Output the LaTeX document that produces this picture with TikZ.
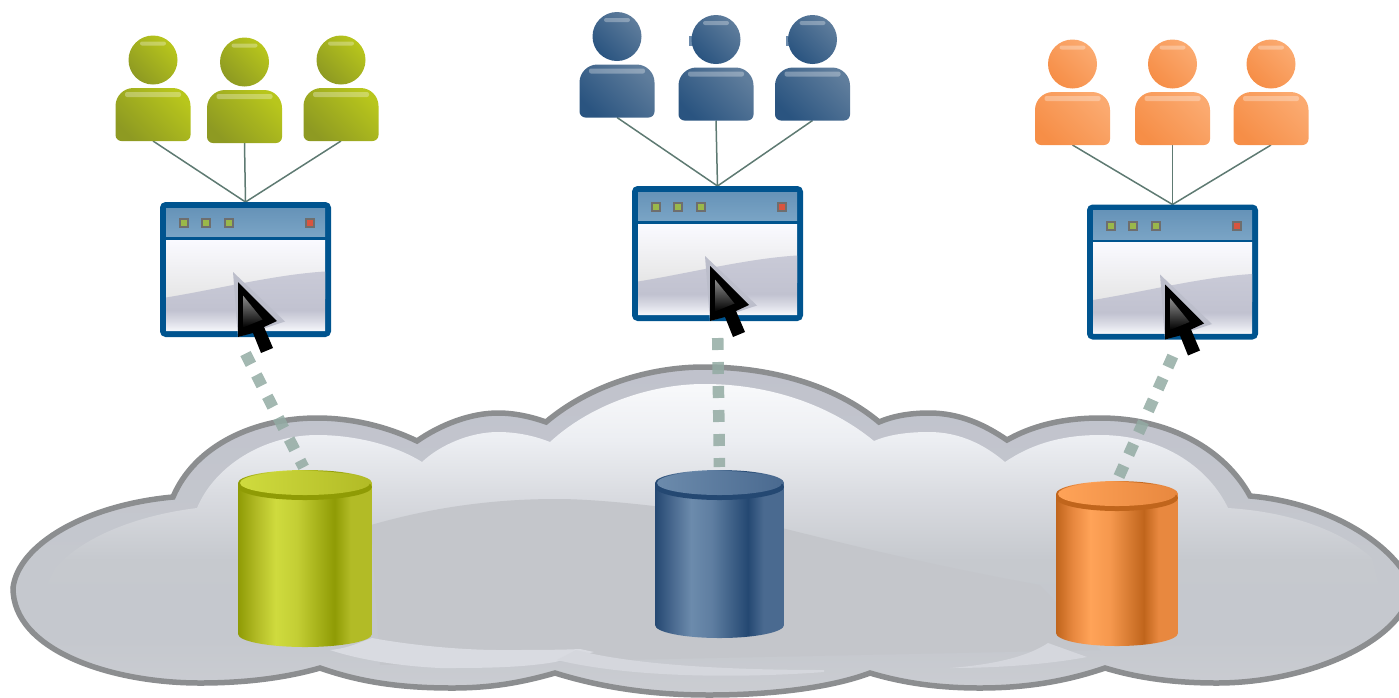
\documentclass[tikz,border=0pt]{standalone}
\usetikzlibrary{calc}
\pgfdeclarelayer{cloudlayer}
\pgfdeclarelayer{linklayer}
\pgfsetlayers{cloudlayer,linklayer,main}

\definecolor{yd}{HTML}{8F9B05}
\definecolor{ym}{HTML}{B2BB26}
\definecolor{yl}{HTML}{CFDB3E}
\definecolor{bd}{HTML}{244872}
\definecolor{bm}{HTML}{4A6A90}
\definecolor{bl}{HTML}{6C8BAC}
\definecolor{od}{HTML}{C0651C}
\definecolor{om}{HTML}{E8883F}
\definecolor{ol}{HTML}{FFA358}
\definecolor{yuserlow}{HTML}{8E9A22}
\definecolor{yuserhigh}{HTML}{B8C61C}
\definecolor{buserlow}{HTML}{2A5480}
\definecolor{buserhigh}{HTML}{5F7D9C}
\definecolor{ouserlow}{HTML}{F68E47}
\definecolor{ouserhigh}{HTML}{FBAA70}
\definecolor{winblue}{HTML}{00548F}
\definecolor{wintitletop}{HTML}{6693B8}
\definecolor{wintitlelow}{HTML}{7AA4C5}
\definecolor{winledgreen}{HTML}{9AB84A}
\definecolor{winledred}{HTML}{D9543F}
\definecolor{winledrim}{HTML}{6E6E6E}
\definecolor{winshadow}{HTML}{BCBECB}
\definecolor{linkgreen}{HTML}{5E7A72}
\definecolor{dotgreen}{HTML}{93ABA3}
\definecolor{cloudline}{HTML}{8C8E90}
\definecolor{cloudrim}{HTML}{C0C2CC}
\definecolor{cloudbase}{HTML}{C5C8CE}
\definecolor{cloudlow}{HTML}{CBCDD2}
\definecolor{swoosh}{HTML}{C4C6CB}
\definecolor{bandleft}{HTML}{D9DBE1}
\definecolor{bandmid}{HTML}{D5D7DD}

\newcommand\dbshade[1]{\pgfdeclarehorizontalshading{#1can}{100bp}{color(0bp)=(#1d); color(25bp)=(#1d); color(32bp)=(#1m); color(39bp)=(#1l); color(47bp)=(#1l!60!#1m); color(61bp)=(#1d); color(67bp)=(#1m); color(100bp)=(#1m)}}
\dbshade{y}
\dbshade{b}
\dbshade{o}
\pgfdeclareverticalshading{winlow}{100bp}{rgb(0bp)=(.965,.969,.984); rgb(25bp)=(.965,.969,.984); rgb(33.5bp)=(.855,.859,.898); rgb(42.5bp)=(.757,.761,.816); rgb(75bp)=(.788,.792,.843); rgb(100bp)=(.788,.792,.843)}
\pgfdeclareverticalshading{cloudouter}{100bp}{color(0bp)=(cloudlow); color(25bp)=(cloudlow); color(33.4bp)=(cloudbase); color(45.5bp)=(cloudbase); color(75bp)=(cloudrim); color(100bp)=(cloudrim)}
\pgfdeclareverticalshading{cloudglow}{100bp}{color(0bp)=(cloudbase); color(25bp)=(cloudbase); rgb(36bp)=(.776,.788,.808); rgb(49.5bp)=(.847,.855,.875); rgb(62.5bp)=(.925,.933,.949); rgb(75bp)=(.973,.976,.984); rgb(100bp)=(.973,.976,.984)}

\tikzset{
  userface/.style 2 args={shading=axis, bottom color=#1, middle color=#1!25!#2, top color=#2, shading angle=-45},
  gloss/.style={fill=white, opacity=.3, rounded corners=2pt},
  userbody/.style={rectangle, inner sep=0, outer sep=0, minimum width=75pt, minimum height=53pt},
  userhead/.style={circle, inner sep=0, outer sep=0, minimum size=49pt},
  winbox/.style={rectangle, draw=winblue, line width=6pt, rounded corners=3pt, fill=white, minimum width=165pt, minimum height=129pt, inner sep=0},
  winled/.style={rectangle, draw=winledrim, line width=2pt, inner sep=0, minimum size=8pt},
  dbnode/.style={rectangle, inner sep=0, outer sep=0},
  userlink/.style={draw=linkgreen, line width=1.5pt},
  dotlink/.style={draw=dotgreen, line width=11.5pt, dash pattern=on 12pt off 12pt, opacity=.85, shorten >=3pt}
}

\newcommand\usericon[5]{
	\node[userbody] (#1) at (#2,#3) {};
	\node[userhead, userface={#4}{#5}] (#1head) at (#2,#3-54.5) {};
	\shade[userface={#4}{#5}] (#1.south west) [rounded corners=18pt] -- (#1.north west) -- (#1.north east) [rounded corners=6pt] -- (#1.south east) -- cycle;
	\fill[gloss] ($(#1.north)+(-28,4)$) rectangle ($(#1.north)+(28,9)$);
	\fill[gloss] ($(#1head.north)+(-13,6)$) rectangle ($(#1head.north)+(13,10)$);
}

\newcommand\appwin[3]{
	\begin{scope}[shift={(#2,#3)}]
	\node[winbox] (#1) at (0,0) {};
	\fill[winblue] (-79.5,-61.5) rectangle (79.5,-29.5);
	\shade[top color=wintitletop, bottom color=wintitlelow] (-79.5,-61.5) rectangle (79.5,-33);
	\shade[top color=white!98!blue, bottom color=black!10!white] (-79.5,-29.5) rectangle (79.5,29);
	\shade[shading=winlow] (-79.5,28) .. controls (-30,20) and (30,5) .. (79.5,2) -- (79.5,61.5) -- (-79.5,61.5) -- cycle;
	\node[winled, fill=winledgreen] (#1a) at (-61.5,-46.5) {};
	\node[winled, fill=winledgreen] (#1b) at (-39.5,-46.5) {};
	\node[winled, fill=winledgreen] (#1c) at (-17,-46.5) {};
	\node[winled, fill=winledred] (#1d) at (64.5,-46.5) {};
	\fill[winshadow] (-12.5,2.5) -- (39.5,52) -- (-7.5,67.5) -- cycle;
	\fill[black] (-7.5,12.5) -- (31.5,51.5) -- (18.5,57.5) -- (27.5,78.5) -- (15.5,83.5) -- (7.5,63.5) -- (-7.5,67.5) -- cycle;
	\shade[top color=black!45, bottom color=black] (-2.5,26) -- (17,50) -- (-2.5,58) -- cycle;
	\end{scope}
}

\newcommand\dbcan[6]{
	\node[dbnode, minimum width=#4*2pt, minimum height=#5pt] (#1) at (#2,#3) {};
	\begin{scope}
	\path[clip] ($(#1.north west)+(0,13)$) -- ($(#1.south west)+(0,-13)$) arc[start angle=180, end angle=360, x radius=#4pt, y radius=13pt] -- ($(#1.north east)+(0,13)$) arc[start angle=0, end angle=180, x radius=#4pt, y radius=13pt];
	\shade[shading=#6can] (#1.north west) rectangle (#1.south east);
	\fill[#6d] ($(#1.north)+(0,17)$) ellipse[x radius=#4pt, y radius=13pt];
	\end{scope}
	\shade[left color=#6l, right color=#6m] ($(#1.north)+(0,13)$) ellipse[x radius=#4pt-2pt, y radius=12pt];
}

\begin{document}
\begin{tikzpicture}[x=1pt,y=-1pt]
	\useasboundingbox (0,0) rectangle (1399,697);

	\usericon{ua1}{153}{114.5}{yuserlow}{yuserhigh}
	\usericon{ua2}{244.5}{116.5}{yuserlow}{yuserhigh}
	\usericon{ua3}{341}{114.5}{yuserlow}{yuserhigh}
	\fill[bl] (689,36) rectangle (694,46);
	\fill[bl] (786,36) rectangle (791,46);
	\usericon{ub1}{617}{91}{buserlow}{buserhigh}
	\usericon{ub2}{716}{94}{buserlow}{buserhigh}
	\usericon{ub3}{812.5}{94}{buserlow}{buserhigh}
	\usericon{uc1}{1072.5}{118.5}{ouserlow}{ouserhigh}
	\usericon{uc2}{1172.5}{118.5}{ouserlow}{ouserhigh}
	\usericon{uc3}{1271}{118.5}{ouserlow}{ouserhigh}

	\appwin{wina}{245.5}{269.5}
	\appwin{winb}{717.5}{253.5}
	\appwin{winc}{1172.5}{272}

	\dbcan{dba}{305}{558.5}{67}{177}{y}
	\dbcan{dbb}{719.5}{554}{64.5}{168}{b}
	\dbcan{dbc}{1117}{563.5}{61}{165}{o}

	\coordinate (winadot) at (237,337);
	\coordinate (wincdot) at (1180,340);
	\begin{pgfonlayer}{linklayer}
	\foreach \usr in {ua1,ua2,ua3} \draw[userlink] (\usr.south) -- (wina.north);
	\foreach \usr in {ub1,ub2,ub3} \draw[userlink] (\usr.south) -- (winb.north);
	\foreach \usr in {uc1,uc2,uc3} \draw[userlink] (\usr.south) -- (winc.north);
	\draw[dotlink, shorten <=18.6pt] (winadot) -- (dba.north);
	\draw[dotlink, shorten <=17pt] (winb.south) -- (dbb.north);
	\draw[dotlink, shorten <=17.6pt] (wincdot) -- (dbc.north);
	\end{pgfonlayer}

	\begin{pgfonlayer}{cloudlayer}
	\clip (0,0) rectangle (1399,697);
	% outer cloud
	\shadedraw[draw=cloudline, line width=5.5pt, shading=cloudouter] (13,588)
	  .. controls (18,545) and (85,505) .. (173,497)
	  .. controls (195,445) and (255,418) .. (317,418)
	  .. controls (355,418) and (390,428) .. (417,441)
	  .. controls (440,425) and (470,413) .. (498,413)
	  .. controls (515,413) and (532,417) .. (546,422)
	  .. controls (590,385) and (650,367) .. (704,367)
	  .. controls (770,367) and (835,385) .. (879,422)
	  .. controls (893,416) and (910,413) .. (929,413)
	  .. controls (960,413) and (985,425) .. (1007,440)
	  .. controls (1030,427) and (1060,418) .. (1100,418)
	  .. controls (1170,418) and (1225,450) .. (1250,496)
	  .. controls (1330,503) and (1395,545) .. (1412,587)
	  .. controls (1405,640) and (1310,683) .. (1217,683)
	  .. controls (1170,683) and (1135,677) .. (1105,668)
	  .. controls (1070,680) and (1030,688) .. (980,688)
	  .. controls (935,688) and (900,682) .. (870,673)
	  .. controls (830,688) and (770,695) .. (709,695)
	  .. controls (650,695) and (600,687) .. (555,673)
	  .. controls (520,683) and (490,688) .. (452,688)
	  .. controls (400,688) and (360,682) .. (320,668)
	  .. controls (285,678) and (245,683) .. (200,683)
	  .. controls (110,683) and (13,650) .. (13,588) -- cycle;
	% inner glow
	\shade[shading=cloudglow] (55,568)
	  .. controls (85,535) and (140,515) .. (197,508)
	  .. controls (215,465) and (265,435) .. (317,435)
	  .. controls (355,435) and (395,445) .. (422,462)
	  .. controls (440,445) and (470,432) .. (498,432)
	  .. controls (517,432) and (535,436) .. (550,442)
	  .. controls (590,405) and (650,384) .. (704,384)
	  .. controls (770,384) and (830,405) .. (874,441)
	  .. controls (890,434) and (910,432) .. (929,432)
	  .. controls (960,432) and (985,445) .. (1005,462)
	  .. controls (1030,445) and (1060,435) .. (1100,435)
	  .. controls (1165,435) and (1210,470) .. (1228,508)
	  .. controls (1290,512) and (1340,530) .. (1372,558)
	  -- (1385,610) -- (35,610) -- cycle;
	% dark swoosh
	\fill[swoosh] (371,525)
	  .. controls (430,508) and (490,499) .. (557,499)
	  .. controls (610,499) and (720,512) .. (782,528)
	  .. controls (850,545) and (930,565) .. (1040,585)
	  -- (1100,650) -- (380,665) -- cycle;
	% lower light bands
	\fill[bandleft] (330,650) .. controls (350,648) and (360,642) .. (372,638)
	  .. controls (410,645) and (460,650) .. (500,650) .. controls (530,650) and (560,650) .. (580,649)
	  -- (594,652) -- (555,662) .. controls (520,668) and (480,668) .. (440,668) .. controls (400,666) and (360,660) .. (330,650) -- cycle;
	\fill[bandmid] (576,650) .. controls (630,664) and (720,670) .. (824,670)
	  -- (824,672) .. controls (760,677) and (640,680) .. (557,660) -- cycle;
	\fill[bandmid] (950,668) .. controls (1000,664) and (1030,655) .. (1048,643)
	  -- (1087,657) .. controls (1050,664) and (1000,668) .. (950,668) -- cycle;
	\end{pgfonlayer}
\end{tikzpicture}
\end{document}
